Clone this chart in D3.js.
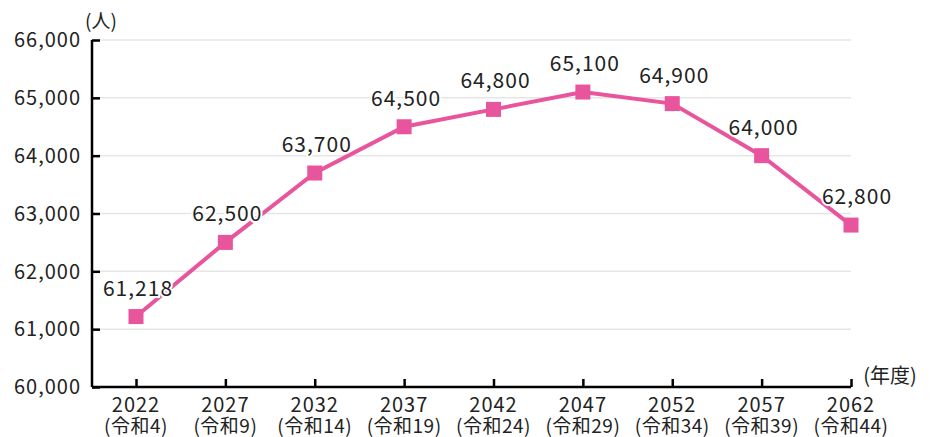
<!DOCTYPE html>
<html>
<head>
<meta charset="utf-8">
<script src="https://cdn.jsdelivr.net/npm/d3@7"></script>
<style>
	body { margin: 0; background: #fff; }
	svg { display: block; font-family: "Noto Sans CJK JP", "Noto Sans", sans-serif; }
</style>
</head>
<body>
<div id="chart"></div>
<script>
(function () {
	"use strict";

	var years = ['2022', '2027', '2032', '2037', '2042', '2047', '2052', '2057', '2062'];
	var eras = ['(令和4)', '(令和9)', '(令和14)', '(令和19)', '(令和24)', '(令和29)', '(令和34)', '(令和39)', '(令和44)'];
	var population = [61218, 62500, 63700, 64500, 64800, 65100, 64900, 64000, 62800];
	var yTicks = [60000, 61000, 62000, 63000, 64000, 65000, 66000];

	var WIDTH = 934;
	var HEIGHT = 437;
	var AXIS_X = 92;
	var PINK = '#e8559c';
	var INK = '#222';

	var svg = d3.select('#chart').append('svg')
		.attr('width', WIDTH)
		.attr('height', HEIGHT);

	var x = d3.scalePoint()
		.domain(years)
		.range([136, 851]);

	var y = d3.scaleLinear()
		.domain([60000, 66000])
		.range([387, 40]);

	var fmt = d3.format(',');

	// gridlines
	svg.append('g')
		.selectAll('line')
		.data(yTicks.slice(1))
		.enter()
		.append('line')
		.attr('x1', AXIS_X)
		.attr('x2', 851)
		.attr('y1', function (d) { return y(d); })
		.attr('y2', function (d) { return y(d); })
		.attr('stroke', '#e6e6e6')
		.attr('stroke-width', 1.5);

	// y axis
	var yAxis = svg.append('g')
		.attr('transform', 'translate(' + AXIS_X + ',0)')
		.call(d3.axisRight(y).tickValues(yTicks).tickSize(8).tickFormat(function () { return ''; }));
	yAxis.select('.domain').attr('stroke', '#000').attr('stroke-width', 2.5).attr('d', 'M0,' + y(66000) + 'V' + y(60000));
	yAxis.selectAll('.tick line').attr('stroke', '#000').attr('stroke-width', 2.5);

	svg.append('g')
		.selectAll('text')
		.data(yTicks)
		.enter()
		.append('text')
		.attr('x', 81)
		.attr('y', function (d) { return y(d); })
		.attr('dy', '0.36em')
		.attr('text-anchor', 'end')
		.attr('font-size', 20)
		.attr('letter-spacing', 1)
		.attr('fill', INK)
		.text(fmt);

	// x axis
	var xAxis = svg.append('g')
		.attr('transform', 'translate(0,' + y(60000) + ')')
		.call(d3.axisTop(x).tickSize(8).tickFormat(function () { return ''; }));
	xAxis.select('.domain').attr('stroke', '#000').attr('stroke-width', 2.5).attr('d', 'M' + AXIS_X + ',0H' + x('2062'));
	xAxis.selectAll('.tick line').attr('stroke', '#000').attr('stroke-width', 2.5);

	svg.append('g')
		.selectAll('text')
		.data(years)
		.enter()
		.append('text')
		.attr('x', function (d) { return x(d); })
		.attr('y', 412)
		.attr('text-anchor', 'middle')
		.attr('font-size', 20)
		.attr('letter-spacing', 1)
		.attr('fill', INK)
		.text(function (d) { return d; });

	svg.append('g')
		.selectAll('text')
		.data(eras)
		.enter()
		.append('text')
		.attr('x', function (d, i) { return x(years[i]); })
		.attr('y', 433)
		.attr('text-anchor', 'middle')
		.attr('font-size', 19)
		.attr('letter-spacing', 0.5)
		.attr('fill', INK)
		.text(function (d) { return d; });

	// unit labels
	svg.append('text')
		.attr('x', 101)
		.attr('y', 28)
		.attr('text-anchor', 'middle')
		.attr('font-size', 19)
		.attr('fill', INK)
		.text('(人)');
	svg.append('text')
		.attr('x', 890)
		.attr('y', 383)
		.attr('text-anchor', 'middle')
		.attr('font-size', 20)
		.attr('fill', INK)
		.text('(年度)');

	// line
	var line = d3.line()
		.x(function (d, i) { return x(years[i]); })
		.y(function (d) { return y(d); });

	svg.append('path')
		.datum(population)
		.attr('d', line)
		.attr('fill', 'none')
		.attr('stroke', PINK)
		.attr('stroke-width', 4);

	svg.append('g')
		.selectAll('rect')
		.data(population)
		.enter()
		.append('rect')
		.attr('x', function (d, i) { return x(years[i]) - 7.5; })
		.attr('y', function (d) { return y(d) - 7.5; })
		.attr('width', 15)
		.attr('height', 15)
		.attr('fill', PINK);

	// value labels with white halo
	svg.append('g')
		.selectAll('text')
		.data(population)
		.enter()
		.append('text')
		.attr('x', function (d, i) { return x(years[i]) + (i === 8 ? 6 : 2); })
		.attr('y', function (d) { return y(d) - 21; })
		.attr('text-anchor', 'middle')
		.attr('font-size', 21)
		.attr('letter-spacing', 1)
		.attr('fill', INK)
		.attr('stroke', '#fff')
		.attr('stroke-width', 4)
		.attr('paint-order', 'stroke')
		.text(fmt);
}());
</script>
</body>
</html>
